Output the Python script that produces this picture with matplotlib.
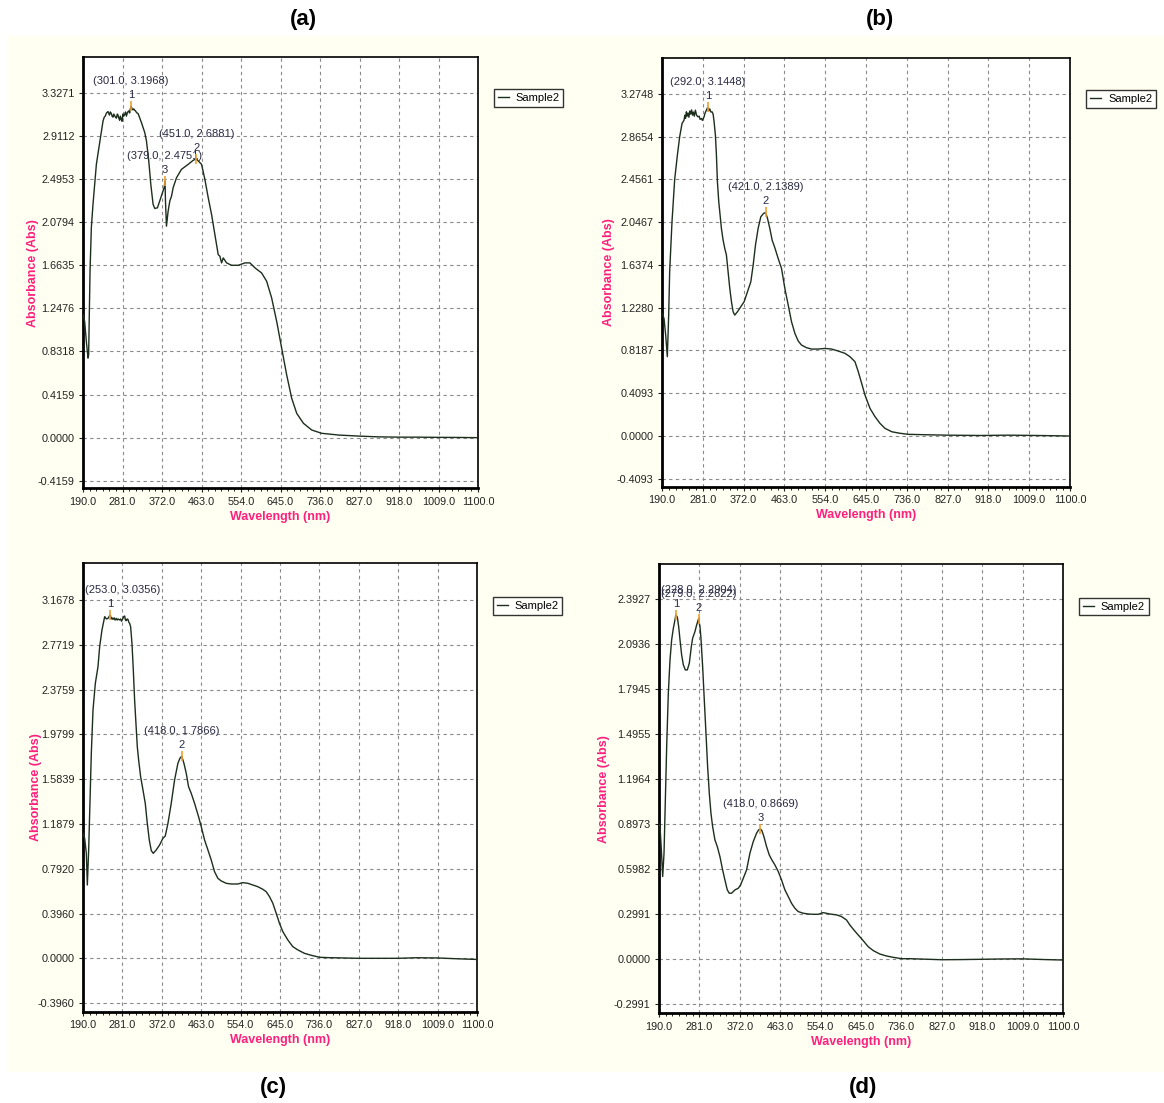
import matplotlib
matplotlib.use("Agg")
import matplotlib.pyplot as plt
from matplotlib.patches import Rectangle

plt.rcParams['font.family'] = ['Liberation Sans', 'DejaVu Sans']

# ------------------------------------------
# Spectra
# ------------------------------------------

wl_a = [190.0, 193.8, 197.7, 201.5, 203.0, 206.2, 209.2, 213.0, 220.8, 230.8,
        236.2, 239.0, 241.5, 244.0, 247.7, 250.0, 251.0, 253.0, 255.4, 257.0,
        259.0, 261.0, 263.1, 265.0, 267.0, 269.0, 270.8, 272.5, 274.5, 276.0,
        278.5, 280.0, 282.0, 284.0, 286.2, 288.0, 290.0, 292.0, 293.8, 295.5,
        297.5, 299.0, 301.0, 303.0, 305.0, 307.0, 309.2, 311.0, 312.5, 314.5,
        316.9, 324.6, 332.3, 336.2, 341.5, 346.2, 351.5, 355.4, 361.5, 369.2,
        376.9, 379.0, 380.0, 382.3, 386.0, 390.0, 394.0, 397.7, 405.4, 416.9,
        432.3, 443.8, 451.0, 463.1, 470.8, 478.5, 486.2, 493.8, 501.5, 505.4,
        509.2, 513.1, 520.8, 532.3, 547.7, 563.1, 574.6, 586.2, 601.5, 613.1,
        624.6, 636.2, 647.7, 659.2, 670.8, 682.3, 697.7, 716.9, 740.0, 780.0,
        827.0, 870.0, 918.0, 960.0, 1009.0, 1060.0, 1100.0]
ab_a = [1.186, 1.121, 0.928, 0.767, 0.800, 1.604, 2.023, 2.249, 2.635, 2.909,
        3.054, 3.090, 3.102, 3.130, 3.144, 3.120, 3.110, 3.140, 3.125, 3.100,
        3.090, 3.120, 3.102, 3.090, 3.080, 3.120, 3.109, 3.080, 3.060, 3.100,
        3.070, 3.050, 3.120, 3.100, 3.119, 3.140, 3.100, 3.130, 3.144, 3.150,
        3.130, 3.170, 3.196, 3.170, 3.160, 3.170, 3.157, 3.150, 3.140, 3.130,
        3.125, 3.038, 2.941, 2.861, 2.668, 2.442, 2.249, 2.210, 2.216, 2.313,
        2.410, 2.475, 2.281, 2.039, 2.180, 2.281, 2.330, 2.410, 2.506, 2.587,
        2.635, 2.674, 2.688, 2.635, 2.490, 2.313, 2.152, 1.959, 1.765, 1.749,
        1.685, 1.733, 1.685, 1.662, 1.662, 1.685, 1.685, 1.637, 1.588, 1.508,
        1.347, 1.121, 0.863, 0.606, 0.380, 0.235, 0.139, 0.074, 0.042, 0.025,
        0.015, 0.008, 0.005, 0.005, 0.003, 0.002, 0.000]

wl_b = [190.0, 194.5, 198.2, 201.9, 204.9, 207.1, 212.3, 218.3, 224.3, 229.5,
        234.7, 239.1, 241.0, 242.5, 244.4, 246.0, 248.1, 250.0, 252.0, 254.0,
        256.0, 258.0, 260.0, 262.0, 264.5, 267.0, 270.4, 273.0, 275.0, 277.9,
        280.0, 283.8, 286.0, 289.0, 292.0, 294.0, 296.5, 299.0, 301.7, 304.0,
        306.2, 309.1, 311.4, 313.6, 316.6, 319.6, 322.5, 326.3, 330.0, 333.7,
        337.4, 341.2, 344.9, 348.6, 352.3, 358.3, 365.7, 373.2, 380.6, 388.1,
        393.3, 398.5, 404.4, 410.4, 416.4, 421.0, 425.3, 430.5, 435.7, 441.7,
        449.1, 456.6, 464.0, 471.5, 478.9, 486.4, 493.8, 501.2, 512.4, 523.6,
        538.5, 553.4, 568.3, 583.1, 598.0, 609.2, 620.4, 627.8, 635.3, 642.7,
        653.9, 665.1, 676.2, 687.4, 702.3, 720.9, 739.5, 780.0, 827.0, 900.0,
        960.0, 1009.0, 1060.0, 1100.0]
ab_b = [1.173, 1.125, 0.966, 0.759, 1.157, 1.572, 2.050, 2.455, 2.687, 2.866,
        2.990, 3.022, 3.070, 3.040, 3.102, 3.060, 3.090, 3.050, 3.110, 3.080,
        3.120, 3.070, 3.100, 3.060, 3.118, 3.070, 3.054, 3.060, 3.030, 3.038,
        3.020, 3.054, 3.090, 3.118, 3.145, 3.110, 3.130, 3.100, 3.102, 3.080,
        3.006, 2.879, 2.687, 2.432, 2.241, 2.113, 1.986, 1.874, 1.795, 1.731,
        1.572, 1.412, 1.285, 1.189, 1.157, 1.189, 1.237, 1.285, 1.380, 1.476,
        1.635, 1.827, 1.986, 2.098, 2.129, 2.139, 2.082, 1.986, 1.874, 1.801,
        1.699, 1.603, 1.412, 1.253, 1.093, 0.982, 0.909, 0.870, 0.845, 0.832,
        0.832, 0.838, 0.832, 0.813, 0.791, 0.759, 0.711, 0.615, 0.504, 0.392,
        0.265, 0.185, 0.121, 0.073, 0.041, 0.026, 0.016, 0.012, 0.008, 0.005,
        0.008, 0.006, 0.003, 0.000]

wl_c = [190.0, 193.8, 197.7, 200.0, 203.1, 205.4, 209.2, 213.1, 218.5, 224.6,
        228.5, 233.8, 238.5, 240.0, 241.5, 244.0, 247.7, 250.0, 253.0, 255.0,
        257.0, 259.2, 262.0, 264.0, 266.9, 269.0, 271.0, 274.6, 277.0, 279.0,
        282.3, 284.0, 286.2, 288.0, 290.0, 292.0, 293.8, 296.0, 297.7, 300.0,
        303.1, 306.2, 309.2, 312.3, 315.4, 318.5, 323.1, 328.5, 333.8, 338.5,
        343.1, 347.7, 352.3, 359.2, 366.9, 374.6, 380.0, 386.2, 393.8, 401.5,
        409.2, 413.8, 418.0, 423.1, 428.5, 433.8, 440.0, 447.7, 456.9, 463.1,
        470.8, 478.5, 486.2, 493.8, 501.5, 509.2, 520.8, 532.3, 547.7, 559.2,
        570.8, 582.3, 593.8, 605.4, 613.1, 620.8, 628.5, 636.2, 643.8, 651.5,
        663.1, 674.6, 686.2, 701.5, 716.9, 736.2, 755.4, 827.0, 918.0, 960.0,
        1009.0, 1060.0, 1100.0]
ab_c = [1.105, 1.061, 0.928, 0.648, 0.958, 1.282, 1.812, 2.195, 2.431, 2.578,
        2.755, 2.902, 2.991, 3.020, 3.014, 3.000, 3.005, 3.020, 3.036, 3.000,
        3.010, 2.996, 3.010, 2.990, 3.005, 2.990, 3.000, 2.991, 3.000, 2.980,
        3.005, 3.020, 3.026, 2.990, 2.985, 3.000, 2.996, 2.970, 2.961, 2.932,
        2.784, 2.549, 2.283, 2.077, 1.871, 1.753, 1.606, 1.488, 1.370, 1.193,
        1.046, 0.952, 0.928, 0.958, 1.002, 1.061, 1.081, 1.193, 1.370, 1.576,
        1.724, 1.768, 1.787, 1.724, 1.635, 1.517, 1.458, 1.370, 1.252, 1.164,
        1.046, 0.958, 0.869, 0.766, 0.707, 0.684, 0.663, 0.657, 0.657, 0.669,
        0.663, 0.648, 0.633, 0.610, 0.589, 0.545, 0.486, 0.398, 0.309, 0.236,
        0.162, 0.103, 0.074, 0.044, 0.027, 0.009, 0.006, 0.000, 0.000, 0.005,
        0.003, -0.005, -0.010]

wl_d = [190.0, 192.3, 195.3, 198.3, 201.3, 204.3, 207.3, 211.0, 214.8, 218.5,
        222.3, 226.0, 228.0, 231.3, 234.3, 237.3, 241.0, 244.8, 249.3, 253.8,
        258.3, 262.8, 265.8, 271.0, 274.8, 279.0, 282.3, 284.5, 288.3, 292.0,
        295.8, 299.5, 303.3, 307.0, 310.8, 316.0, 321.3, 327.3, 333.3, 338.5,
        343.8, 348.3, 353.5, 361.0, 368.5, 373.8, 379.8, 387.3, 394.8, 402.3,
        409.8, 414.3, 418.0, 421.8, 426.3, 432.3, 438.3, 444.3, 451.1, 458.6,
        466.1, 473.6, 481.1, 488.6, 496.1, 503.6, 514.8, 526.1, 537.3, 548.6,
        559.8, 574.8, 589.9, 601.1, 612.4, 619.9, 628.9, 638.6, 649.9, 661.1,
        672.4, 687.4, 702.4, 717.4, 736.1, 754.9, 827.0, 870.0, 918.0, 960.0,
        1009.0, 1060.0, 1100.0]
ab_d = [0.904, 0.882, 0.727, 0.550, 0.705, 1.059, 1.414, 1.768, 1.990, 2.123,
        2.200, 2.256, 2.290, 2.273, 2.211, 2.123, 2.023, 1.957, 1.923, 1.923,
        1.968, 2.078, 2.134, 2.178, 2.222, 2.262, 2.211, 2.134, 1.945, 1.724,
        1.502, 1.281, 1.103, 0.971, 0.882, 0.793, 0.749, 0.682, 0.594, 0.527,
        0.461, 0.439, 0.439, 0.461, 0.472, 0.494, 0.538, 0.594, 0.705, 0.782,
        0.838, 0.860, 0.867, 0.855, 0.815, 0.749, 0.694, 0.660, 0.627, 0.583,
        0.527, 0.461, 0.417, 0.372, 0.339, 0.317, 0.306, 0.301, 0.299, 0.299,
        0.310, 0.301, 0.295, 0.284, 0.261, 0.228, 0.195, 0.162, 0.124, 0.084,
        0.058, 0.035, 0.022, 0.013, 0.004, 0.004, -0.003, -0.002, 0.000, 0.002,
        0.003, -0.002, -0.005]

# ------------------------------------------
# Picked peaks (numbered as in the software)
# ------------------------------------------

peaks_a_x = [301.0, 451.0, 379.0]
peaks_a_y = [3.1968, 2.6881, 2.4751]
peaks_b_x = [292.0, 421.0]
peaks_b_y = [3.1448, 2.1389]
peaks_c_x = [253.0, 418.0]
peaks_c_y = [3.0356, 1.7866]
peaks_d_x = [228.0, 279.0, 418.0]
peaks_d_y = [2.2904, 2.2622, 0.8669]

# ------------------------------------------
# Axis ticks
# ------------------------------------------

x_ticks = [190.0, 281.0, 372.0, 463.0, 554.0, 645.0, 736.0, 827.0, 918.0, 1009.0, 1100.0]
y_ticks_a = [-0.4159, 0.0, 0.4159, 0.8318, 1.2476, 1.6635, 2.0794, 2.4953, 2.9112, 3.3271]
y_ticks_b = [-0.4093, 0.0, 0.4093, 0.8187, 1.2280, 1.6374, 2.0467, 2.4561, 2.8654, 3.2748]
y_ticks_c = [-0.3960, 0.0, 0.3960, 0.7920, 1.1879, 1.5839, 1.9799, 2.3759, 2.7719, 3.1678]
y_ticks_d = [-0.2991, 0.0, 0.2991, 0.5982, 0.8973, 1.1964, 1.4955, 1.7945, 2.0936, 2.3927]

# ------------------------------------------
# Figure
# ------------------------------------------

W, H = 1164, 1103
PINK = "#ff1f7c"
LINE = "#1c2e1c"

fig = plt.figure(figsize=(W / 100, H / 100), dpi=100)
fig.patch.set_facecolor("white")
fig.add_artist(Rectangle((7 / W, 1 - 1072 / H), (W - 7) / W, (1072 - 36) / H,
                         transform=fig.transFigure, facecolor="#fffff2",
                         edgecolor="none", zorder=0))


def box(l, t, r, b):
    return [l / W, 1 - b / H, (r - l) / W, (b - t) / H]


def draw_panel(rect, wl, ab, yticks, ylim, px, py, ylab_x):
    ax = fig.add_axes(rect)
    ax.set_facecolor("white")
    ax.plot(wl, ab, color=LINE, lw=1.0, label="Sample2", zorder=3)
    ax.set_xlim(190, 1100)
    ax.set_ylim(*ylim)
    ax.set_xticks(x_ticks)
    ax.set_xticklabels([f"{t:.1f}" for t in x_ticks])
    ax.set_yticks(yticks)
    ax.set_yticklabels([f"{t:.4f}" for t in yticks])
    ax.set_xticks([x_ticks[0] + i * 91 / 6 for i in range(61)], minor=True)
    ax.tick_params(axis="both", which="major", length=3, width=0.8,
                   labelsize=7.8, colors="#222222", pad=3)
    ax.tick_params(axis="x", which="minor", length=2, width=0.6)
    ax.grid(True, which="major", color="#8a8a8a", ls=(0, (3, 3)), lw=0.8)
    for s in ["left", "bottom"]:
        ax.spines[s].set_linewidth(2.0)
    for s in ["top", "right"]:
        ax.spines[s].set_linewidth(1.2)
    ax.set_xlabel("Wavelength (nm)", color=PINK, fontsize=9, fontweight="bold", labelpad=3)
    ax.set_ylabel("Absorbance (Abs)", color=PINK, fontsize=9, fontweight="bold")
    ax.yaxis.set_label_coords(ylab_x, 0.5)

    anns = []
    for i, (x, y) in enumerate(zip(px, py)):
        ax.plot([x], [y], marker="|", ms=7, mew=1.2, color="#f0a030", zorder=4)
        ax.annotate(str(i + 1), (x, y), xytext=(0, 8), textcoords="offset points",
                    ha="center", va="center", fontsize=8, color="#2a2a44")
        anns.append(ax.annotate(f"({x:.1f}, {y:.4f})", (x, y), xytext=(0, 18),
                                textcoords="offset points", ha="center", va="center",
                                fontsize=8, color="#2a2a44"))

    leg = ax.legend(loc="upper left", bbox_to_anchor=(1.04, 0.925), fontsize=8,
                    frameon=True, fancybox=False, edgecolor="black",
                    handlelength=1.0, handletextpad=0.6, borderpad=0.35,
                    borderaxespad=0)
    leg.get_frame().set_linewidth(1.0)
    return ax, anns


panels = [
    (box(83, 57, 478, 488.5), wl_a, ab_a, y_ticks_a, (-0.49, 3.67),
     peaks_a_x, peaks_a_y, -0.111),
    (box(662, 58.3, 1070, 486.7), wl_b, ab_b, y_ticks_b, (-0.485, 3.614),
     peaks_b_x, peaks_b_y, -0.115),
    (box(83, 563.3, 477, 1011.7), wl_c, ab_c, y_ticks_c, (-0.472, 3.492),
     peaks_c_x, peaks_c_y, -0.104),
    (box(659, 564, 1063, 1013.3), wl_d, ab_d, y_ticks_d, (-0.359, 2.627),
     peaks_d_x, peaks_d_y, -0.121),
]

all_anns = []
for p in panels:
    all_anns.append(draw_panel(*p))

# keep peak labels inside the plot area, as the software does
fig.canvas.draw()
renderer = fig.canvas.get_renderer()
for ax, anns in all_anns:
    left = ax.get_window_extent(renderer).x0 + 2
    for a in anns:
        bb = a.get_window_extent(renderer)
        if bb.x0 < left:
            dx = (left - bb.x0) * 72 / fig.dpi
            a.xyann = (a.xyann[0] + dx, a.xyann[1])

# ------------------------------------------
# Panel letters
# ------------------------------------------

for lab, x, y in [("(a)", 303, 20), ("(b)", 880, 20), ("(c)", 273, 1087), ("(d)", 863, 1087)]:
    fig.text(x / W, 1 - y / H, lab, ha="center", va="center",
             fontsize=16, fontweight="bold", color="black")

fig.savefig("out.png", dpi=100)
